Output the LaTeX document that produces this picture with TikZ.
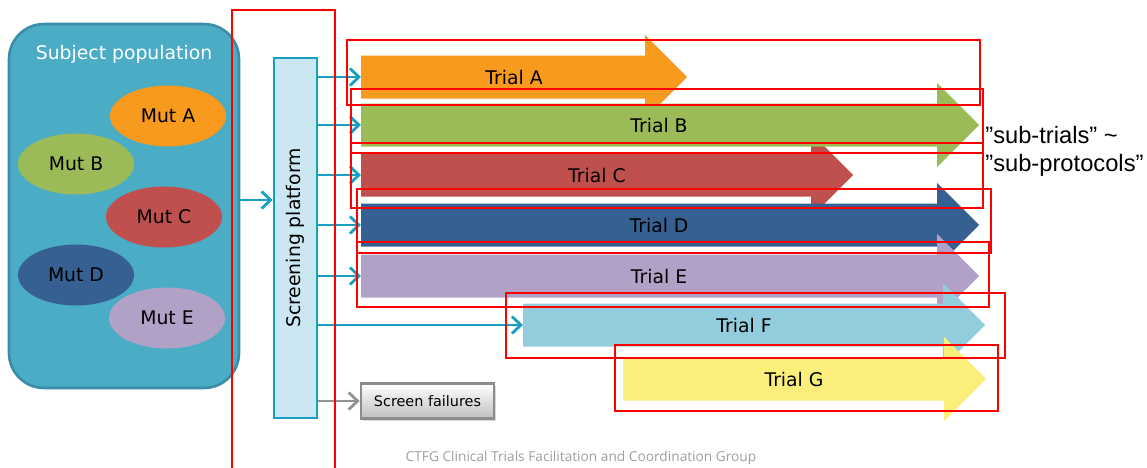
\documentclass[tikz,border=0pt]{standalone}
\usepackage{fontspec}
\setmainfont{DejaVu Sans}
\newfontfamily\quotefont{Liberation Sans}
\newfontfamily\footfont{Open Sans}
\usetikzlibrary{positioning,arrows.meta,shapes.geometric,shadows}
\definecolor{popteal}{HTML}{4BACC6}
\definecolor{popedge}{HTML}{3A8DA6}
\definecolor{feedteal}{HTML}{17A0C0}
\definecolor{screenfill}{HTML}{CBE7F2}
\definecolor{mutorange}{HTML}{F89A1E}
\definecolor{mutgreen}{HTML}{9BBB59}
\definecolor{mutred}{HTML}{C0504D}
\definecolor{mutblue}{HTML}{366092}
\definecolor{mutlilac}{HTML}{B2A1C7}
\definecolor{triallight}{HTML}{93CDDD}
\definecolor{trialyellow}{HTML}{F9EF7A}
\tikzset{
    mut/.style={ellipse, minimum width=2.32cm, minimum height=1.22cm,
        inner sep=0pt, font=\fontsize{10.7}{12}\selectfont},
    trial label/.style={font=\fontsize{10.7}{12}\selectfont, inner sep=0pt},
    feed/.style={draw=feedteal, line width=1.6pt,
        -{Straight Barb[length=1.8mm,width=3.4mm]}},
    failfeed/.style={feed, draw=gray!85},
    markbox/.style={draw=red, line width=1.5pt}
}
\newcommand{\trialarrow}[7]{%
    \fill[#2] (#3,#5-21.5) -- (#4,#5-21.5) -- (#4,#5-42) -- (#4+42,#5)
        -- (#4,#5+42) -- (#4,#5+21.5) -- (#3,#5+21.5) -- cycle;
    \coordinate (#1-in) at (#3,#5);
    \node[trial label] (#1) at (#6,#5) {#7};
}
\begin{document}
\begin{tikzpicture}[x=0.02cm, y=-0.02cm]
\useasboundingbox (0,0) rectangle (1147,467);

\node[draw=popedge, fill=popteal, line width=1.5pt, rounded corners=0.7cm,
    minimum width=4.6cm, minimum height=7.28cm] (pop) at (124,206) {};
\node[text=white, font=\fontsize{10.7}{12}\selectfont] (poptitle) at (124,54) {Subject population};
\node[mut, fill=mutorange] (mutA) at (168,116) {Mut A};
\node[mut, fill=mutgreen] (mutB) at (76,164) {Mut B};
\node[mut, fill=mutred] (mutC) at (164,217) {Mut C};
\node[mut, fill=mutblue] (mutD) at (76,275) {Mut D};
\node[mut, fill=mutlilac] (mutE) at (167,318) {Mut E};

\node[draw=feedteal, fill=screenfill, line width=1.5pt,
    minimum width=0.86cm, minimum height=7.2cm] (screen) at (295.5,238) {};
\node[rotate=90, font=\fontsize{10.7}{12}\selectfont] (screenlbl) at (screen) {Screening platform};

\trialarrow{trialA}{mutorange}{361}{645}{77}{514}{Trial A}
\trialarrow{trialC}{mutred}{361}{811}{175}{597}{Trial C}
\trialarrow{trialB}{mutgreen}{361}{937}{125}{659}{Trial B}
\trialarrow{trialD}{mutblue}{361}{937}{225}{659}{Trial D}
\trialarrow{trialE}{mutlilac}{361}{937}{276}{659}{Trial E}
\trialarrow{trialF}{triallight}{523}{943}{325}{744}{Trial F}
\trialarrow{trialG}{trialyellow}{623}{944}{379}{794}{Trial G}

\draw[feed] ([yshift=0.12cm]pop.east) -- ([yshift=0.12cm]pop.east -| screen.west);
\foreach \t in {trialA,trialB,trialC,trialD,trialE,trialF}
    \draw[feed] (screen.east |- \t-in) -- (\t-in);

\node[draw=gray!90, line width=1.5pt, top color=white, bottom color=gray!50,
    drop shadow={opacity=0.3, shadow xshift=0.4mm, shadow yshift=-0.4mm},
    minimum width=2.66cm, minimum height=0.7cm, font=\fontsize{8.2}{10}\selectfont]
    (fail) at (427.5,401) {Screen failures};
\draw[failfeed] (screen.east |- fail.west) -- (fail.west);

\node[anchor=west, align=left, font=\quotefont\fontsize{13.5}{16}\selectfont, inner sep=0pt]
    (subtrials) at (985,151) {”sub-trials” \textasciitilde\\”sub-protocols”};
\node[text=gray!75, font=\footfont\fontsize{7.8}{9}\selectfont] (footer) at (581,458)
    {CTFG Clinical Trials Facilitation and Coordination Group};

\draw[markbox] (232,10) rectangle (335,480);
\draw[markbox] (347,40) rectangle (980,105);
\draw[markbox] (351,89) rectangle (983,153);
\draw[markbox] (351,143) rectangle (983,208);
\draw[markbox] (357,189) rectangle (991,253);
\draw[markbox] (357,242) rectangle (989,307);
\draw[markbox] (506,293) rectangle (1005,358);
\draw[markbox] (615,345) rectangle (998,411);
\end{tikzpicture}
\end{document}
